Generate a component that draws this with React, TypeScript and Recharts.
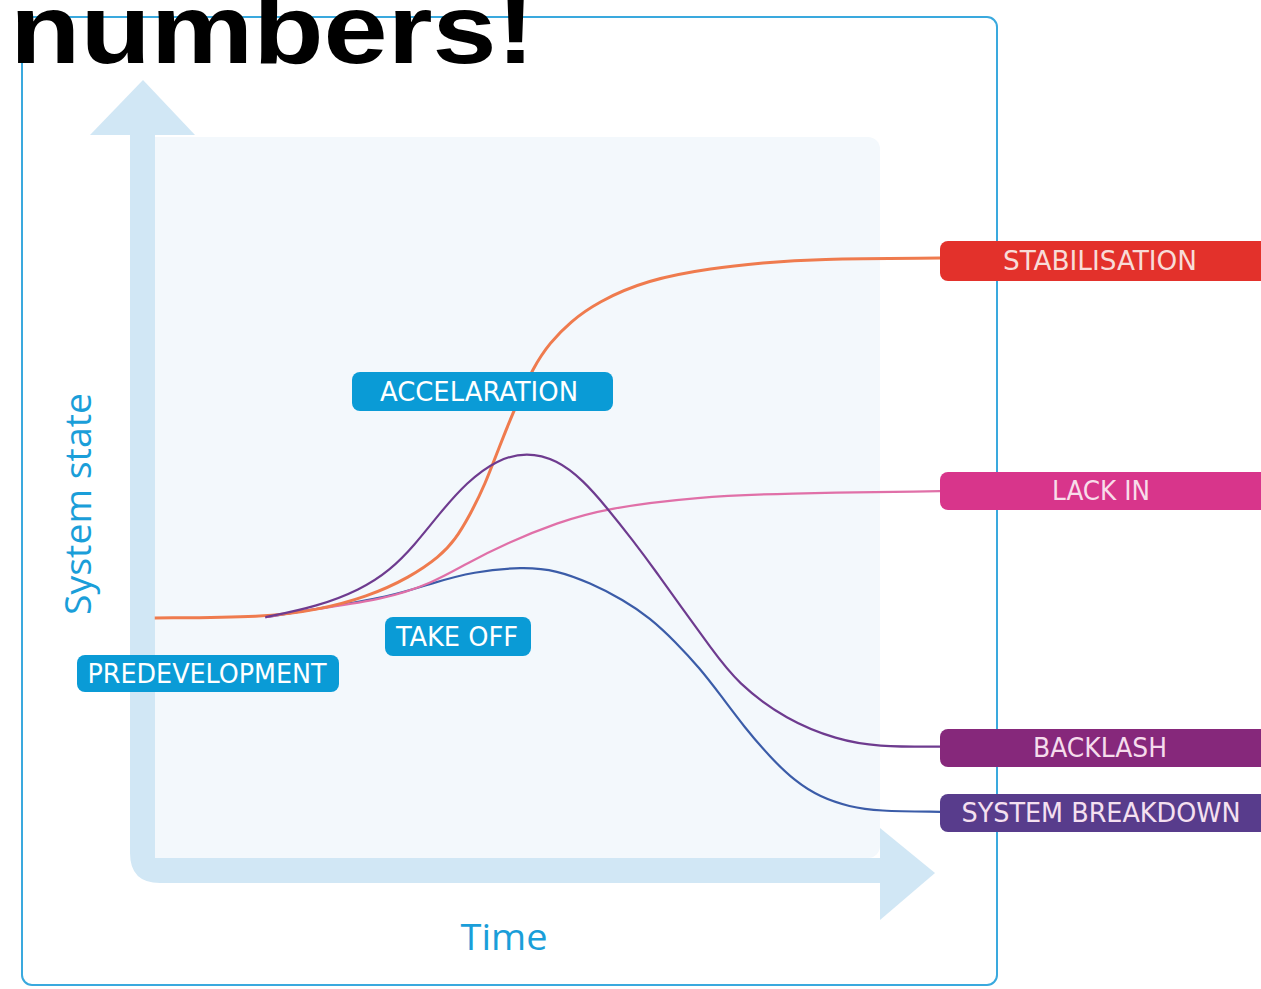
import { LineChart, Line, XAxis, YAxis } from "recharts";

// time (0-100) vs system state (0-100)
const stabilisation = [
  { t: 0.6, s: 40.3 }, { t: 14.6, s: 40.4 }, { t: 21.1, s: 41.4 }, { t: 27.5, s: 43.3 },
  { t: 32.9, s: 46.1 }, { t: 36.7, s: 49.1 }, { t: 38.6, s: 51.4 }, { t: 40.5, s: 55.0 },
  { t: 42.4, s: 59.3 }, { t: 44.3, s: 65.0 }, { t: 46.2, s: 70.3 }, { t: 48.5, s: 76.1 },
  { t: 50.6, s: 79.6 }, { t: 53.2, s: 82.6 }, { t: 56.6, s: 85.4 }, { t: 62.9, s: 88.6 },
  { t: 71.3, s: 90.3 }, { t: 77.6, s: 91.0 }, { t: 83.9, s: 91.6 }, { t: 100, s: 91.7 },
];

const backlash = [
  { t: 14.6, s: 40.4 }, { t: 21.1, s: 41.9 }, { t: 26.6, s: 44.3 }, { t: 30.4, s: 47.1 },
  { t: 33.5, s: 50.7 }, { t: 36.7, s: 55.3 }, { t: 40.1, s: 59.7 }, { t: 43.9, s: 62.9 },
  { t: 47.7, s: 64.0 }, { t: 51.5, s: 62.9 }, { t: 54.8, s: 60.0 }, { t: 57.8, s: 56.1 },
  { t: 61.1, s: 51.4 }, { t: 64.2, s: 46.7 }, { t: 67.1, s: 42.1 }, { t: 71.0, s: 36.0 },
  { t: 74.3, s: 31.0 }, { t: 80.6, s: 25.7 }, { t: 87.0, s: 22.9 },
  { t: 92.0, s: 21.9 }, { t: 100, s: 21.9 },
];

const lockIn = [
  { t: 14.6, s: 40.4 }, { t: 21.1, s: 41.6 }, { t: 29.5, s: 42.9 }, { t: 35.8, s: 45.3 },
  { t: 40.1, s: 48.1 }, { t: 45.2, s: 51.0 }, { t: 51.5, s: 53.9 }, { t: 57.8, s: 56.0 },
  { t: 69.6, s: 57.6 }, { t: 79.7, s: 58.1 }, { t: 100, s: 58.4 },
];

const breakdown = [
  { t: 14.6, s: 40.4 }, { t: 21.1, s: 41.6 }, { t: 30.4, s: 43.3 }, { t: 35.8, s: 45.3 },
  { t: 40.9, s: 46.9 }, { t: 47.2, s: 47.6 }, { t: 51.5, s: 47.1 }, { t: 55.7, s: 45.3 },
  { t: 59.9, s: 42.9 }, { t: 63.3, s: 40.3 }, { t: 66.5, s: 36.9 }, { t: 69.6, s: 33.1 },
  { t: 72.2, s: 29.3 }, { t: 75.3, s: 24.6 }, { t: 78.5, s: 20.4 }, { t: 81.6, s: 17.0 },
  { t: 84.8, s: 14.7 }, { t: 88.6, s: 13.3 }, { t: 92.0, s: 12.7 }, { t: 100, s: 12.6 },
];

const outcomeLabels = ["STABILISATION", "LACK IN", "BACKLASH", "SYSTEM BREAKDOWN"];
const phaseLabels = ["ACCELARATION", "TAKE OFF", "PREDEVELOPMENT"];

const W = 1261;
const H = 989;
const ARROW = "#d1e7f5";
const TAG_BLUE = "#0a9bd6";
const LABEL_FONT = "'Liberation Sans Narrow', 'DejaVu Sans Condensed', 'Open Sans', sans-serif";

function Tag({ x, y, w, h, fill, text, textW, cx, color = "#ffffff" }: any) {
  return (
    <g>
      <rect x={x} y={y} width={w} height={h} rx={8} fill={fill} />
      <text
        x={cx}
        y={y + h / 2 + 9}
        textAnchor="middle"
        fontFamily={LABEL_FONT}
        fontSize={27}
        fill={color}
        textLength={textW}
        lengthAdjust="spacingAndGlyphs"
      >
        {text}
      </text>
    </g>
  );
}

export default function App() {
  return (
    <div style={{ position: "absolute", left: 0, top: 0, width: W, height: H, background: "#fff", overflow: "hidden" }}>
      {/* backdrop: frame, plot panel, arrows */}
      <svg width={W} height={H} style={{ position: "absolute", left: 0, top: 0 }}>
        <rect x={22} y={17} width={975} height={968} rx={10} fill="none" stroke="#3aa9de" strokeWidth={2} />
        <rect x={140} y={137} width={740} height={721} rx={12} fill="#f3f8fc" />
        <path
          d="M130 135 L155 135 L155 858 L880 858 L880 883 L160 883 Q130 883 130 853 Z"
          fill={ARROW}
        />
        <polygon points="90,135 143,80 195,135" fill={ARROW} />
        <polygon points="880,828 935,873 880,920" fill={ARROW} />
      </svg>

      <div style={{ position: "absolute", left: 0, top: 0 }}>
        <LineChart width={W} height={H} margin={{ top: 200, right: 321, bottom: 89, left: 150 }}>
          <XAxis type="number" dataKey="t" domain={[0, 100]} hide height={0} />
          <YAxis type="number" dataKey="s" domain={[0, 100]} hide width={0} />
          <Line data={breakdown} dataKey="s" type="basis" stroke="#3b5ca8" strokeWidth={2.2} dot={false} isAnimationActive={false} />
          <Line data={lockIn} dataKey="s" type="basis" stroke="#e070a8" strokeWidth={2.2} dot={false} isAnimationActive={false} />
          <Line data={stabilisation} dataKey="s" type="basis" stroke="#ef7b4e" strokeWidth={3} dot={false} isAnimationActive={false} />
          <Line data={backlash} dataKey="s" type="basis" stroke="#6e3b8f" strokeWidth={2.2} dot={false} isAnimationActive={false} />
        </LineChart>
      </div>

      {/* annotations */}
      <svg width={W} height={H} style={{ position: "absolute", left: 0, top: 0, pointerEvents: "none" }}>
        <text x={10} y={63} fontFamily="'Liberation Sans', Arial, sans-serif" fontWeight="bold" fontSize={98} fill="#000" textLength={525} lengthAdjust="spacingAndGlyphs">
          numbers!
        </text>

        <Tag x={940} y={241} w={330} h={40} fill="#e3312b" text={outcomeLabels[0]} textW={194} cx={1100} color="#f8dcd8" />
        <Tag x={940} y={472} w={330} h={38} fill="#d8358b" text={outcomeLabels[1]} textW={98} cx={1101} color="#f8dcea" />
        <Tag x={940} y={729} w={330} h={38} fill="#86287b" text={outcomeLabels[2]} textW={134} cx={1100} color="#f5dcec" />
        <Tag x={940} y={794} w={330} h={38} fill="#583c8c" text={outcomeLabels[3]} textW={279} cx={1101} color="#f5e0f0" />

        <Tag x={352} y={372} w={261} h={39} fill={TAG_BLUE} text={phaseLabels[0]} textW={198} cx={479} />
        <Tag x={385} y={617} w={146} h={39} fill={TAG_BLUE} text={phaseLabels[1]} textW={122} cx={457} />
        <Tag x={77} y={655} w={262} h={37} fill={TAG_BLUE} text={phaseLabels[2]} textW={239} cx={207} />

        <text
          x={0}
          y={0}
          transform="translate(91 504) rotate(-90)"
          textAnchor="middle"
          fontFamily="'Open Sans', 'Noto Sans', sans-serif"
          fontSize={36}
          fill="#1a9ed9"
          textLength={222}
          lengthAdjust="spacingAndGlyphs"
        >
          System state
        </text>
        <text
          x={504}
          y={950}
          textAnchor="middle"
          fontFamily="'Open Sans', 'Noto Sans', sans-serif"
          fontSize={36}
          fill="#1a9ed9"
          textLength={87}
          lengthAdjust="spacingAndGlyphs"
        >
          Time
        </text>
      </svg>
    </div>
  );
}
